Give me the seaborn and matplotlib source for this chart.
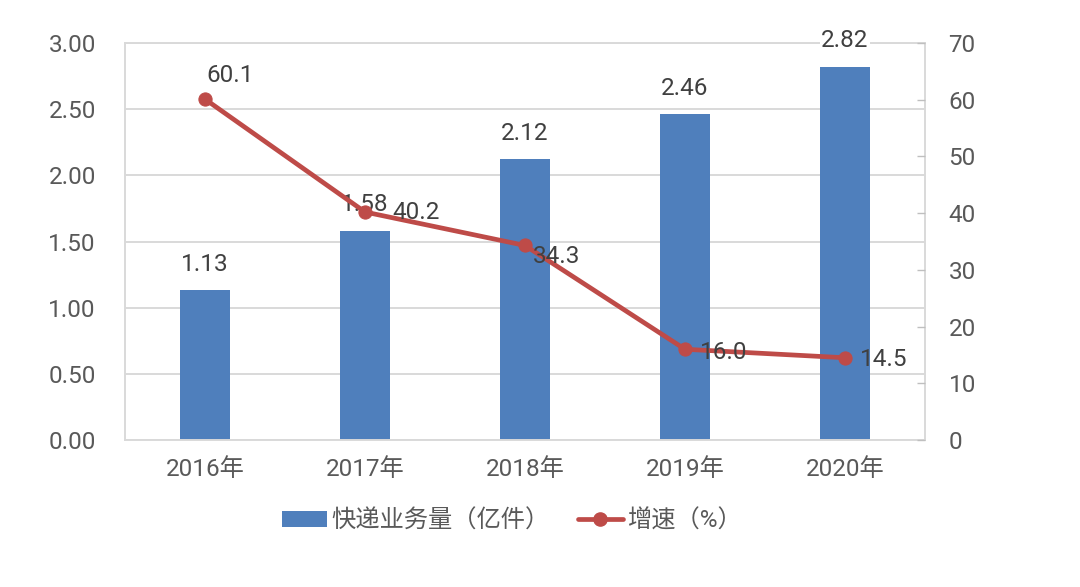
import numpy as np
import pandas as pd
import matplotlib
matplotlib.use("Agg")
import matplotlib.pyplot as plt
from matplotlib.patches import Patch
from matplotlib.lines import Line2D
import seaborn as sns

years = ["2016年", "2017年", "2018年", "2019年", "2020年"]
volume = [1.13, 1.58, 2.12, 2.46, 2.82]
growth = [60.1, 40.2, 34.3, 16.0, 14.5]
left_ticks = [0.0, 0.5, 1.0, 1.5, 2.0, 2.5, 3.0]
right_ticks = [0, 10, 20, 30, 40, 50, 60, 70]
bar_label = "快递业务量（亿件）"
line_label = "增速（%）"

sns.set_theme(style="white")
FONT = ["Roboto", "Noto Sans CJK SC", "DejaVu Sans"]
plt.rcParams["font.family"] = FONT

BLUE = "#4F7FBC"
RED = "#BE4B48"
TXT = "#595959"
GRID = "#D9D9D9"
FS = 17.5

fig = plt.figure(figsize=(10.8, 5.87), dpi=100)
ax = fig.add_axes([125 / 1080, 1 - 440 / 587, 800 / 1080, 397 / 587])

df = pd.DataFrame({"year": years, "volume": volume})
sns.barplot(data=df, x="year", y="volume", ax=ax, color=BLUE, width=0.31,
            saturation=1, edgecolor="none", zorder=2)
ax.set_xlim(-0.5, len(years) - 0.5)
ax.set_ylim(0, 3.0)
ax.set_yticks(left_ticks)
ax.set_yticklabels([f"{t:.2f}" for t in left_ticks])
ax.set_xlabel("")
ax.set_ylabel("")
ax.yaxis.grid(True, color=GRID, linewidth=1.4, zorder=0)
ax.set_axisbelow(True)
ax.tick_params(axis="y", length=0, pad=21, labelsize=FS, labelcolor=TXT)
ax.tick_params(axis="x", length=0, pad=13, labelsize=FS, labelcolor=TXT)
for s in ax.spines.values():
    s.set_color(GRID)
    s.set_linewidth(1.4)

for i, v in enumerate(volume):
    ax.annotate(f"{v:.2f}", (i, v), xytext=(0, 19), textcoords="offset points",
                ha="center", va="center", fontsize=FS, color="#404040", zorder=5,
                annotation_clip=False,
                bbox=dict(boxstyle="square,pad=0.05", facecolor="white", edgecolor="none"))

ax2 = ax.twinx()
sns.lineplot(x=np.arange(len(years)), y=growth, ax=ax2, color=RED, linewidth=3.4,
             marker="o", markersize=9.5, markeredgecolor=RED, zorder=3)
ax2.set_ylim(0, 70)
ax2.set_yticks(right_ticks)
ax2.set_yticklabels([str(t) for t in right_ticks])
ax2.tick_params(axis="y", direction="in", length=6, width=1, color="#BFBFBF",
                pad=17, labelsize=FS, labelcolor=TXT)
ax2.set_ylabel("")
ax2.grid(False)
for s in ax2.spines.values():
    s.set_visible(False)

# label offsets in points (dx, dy), alignment
offs = [(18, 17, "center"), (20, 0, "left"), (6, -8, "left"), (11, -2, "left"), (11, -1, "left")]
for i, g in enumerate(growth):
    dx, dy, ha = offs[i]
    ax2.annotate(f"{g:.1f}", (i, g), xytext=(dx, dy), textcoords="offset points",
                 ha=ha, va="center", fontsize=FS, color="#404040", zorder=6)

handles = [Patch(facecolor=BLUE, edgecolor="none", label=bar_label),
           Line2D([0], [0], color=RED, linewidth=3.4, marker="o", markersize=9.5,
                  label=line_label)]
fig.legend(handles=handles, loc="center", bbox_to_anchor=(0.474, 1 - 521 / 587),
           ncol=2, frameon=False, fontsize=FS, labelcolor=TXT, handlelength=1.85,
           handleheight=0.6, handletextpad=0.2, columnspacing=1.15)

fig.savefig("out.png", dpi=100, facecolor="white")
